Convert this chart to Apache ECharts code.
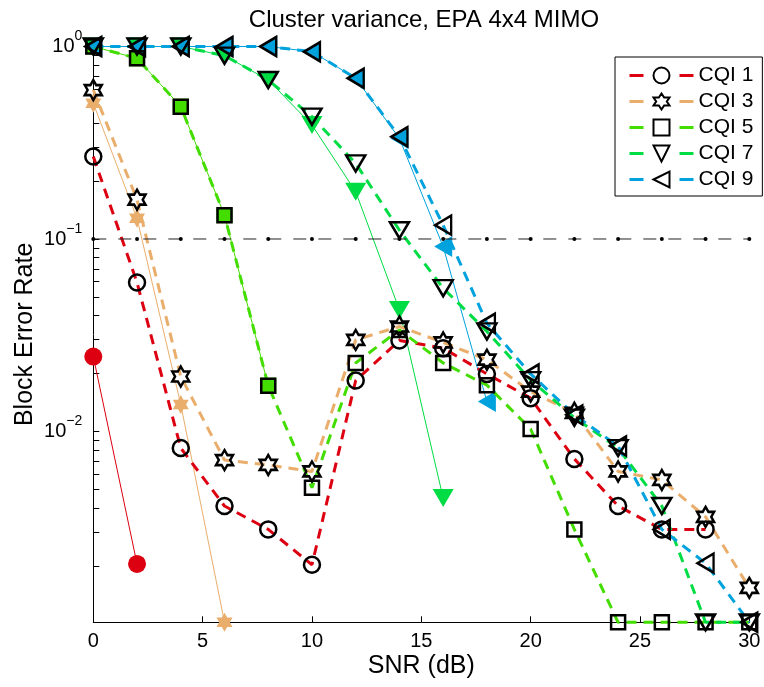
<!DOCTYPE html>
<html><head><meta charset="utf-8">
<script src="https://cdn.jsdelivr.net/npm/echarts@6/dist/echarts.min.js"></script>
<style>html,body{margin:0;padding:0;background:#fff}#c{width:764px;height:687px}</style>
</head><body><div id="c"></div>
<script>
// ---- data ----
const snr = [0, 2, 4, 6, 8, 10, 12, 14, 16, 18, 20, 22, 24, 26, 28, 30];
const cqi1 = [0.268, 0.0594, 0.0082, 0.0041, 0.0031, 0.00203, 0.0184, 0.0297, 0.0271, 0.0199, 0.0149, 0.0072, 0.0041, 0.0031, 0.0031, null];
const cqi1Ref = [0.0245, 0.00205];
const cqi3 = [0.594, 0.16, 0.0193, 0.0071, 0.0067, 0.0062, 0.0299, 0.0351, 0.029, 0.0236, 0.0161, 0.0125, 0.0062, 0.0056, 0.0036, 0.00154];
const cqi3Ref = [0.507, 0.128, 0.0138, 0.00102];
const cqi5 = [1, 0.868, 0.487, 0.133, 0.0173, 0.0051, 0.0227, 0.0337, 0.0227, 0.0174, 0.0103, 0.0031, 0.00102, 0.00102, 0.00102, 0.00102];
const cqi5Ref = [1, 0.868, 0.487, 0.133, 0.0173];
const cqi7 = [1, 1, 1, 0.896, 0.67, 0.432, 0.247, 0.111, 0.0555, 0.0331, 0.0185, 0.0118, 0.0082, 0.0041, 0.00102, 0.00102];
const cqi7Ref = [1, 1, 1, 0.896, 0.67, 0.391, 0.176, 0.0428, 0.00451];
const cqi9 = [1, 1, 1, 1, 1, 0.94, 0.684, 0.34, 0.118, 0.0365, 0.0199, 0.0122, 0.0084, 0.0031, 0.00207, 0.00102];
const cqi9Ref = [1, 1, 1, 1, 1, 0.94, 0.684, 0.333, 0.0913, 0.0143];
const target = [0.1, 0.1, 0.1, 0.1, 0.1, 0.1, 0.1, 0.1, 0.1, 0.1, 0.1, 0.1, 0.1, 0.1, 0.1, 0.1];
const seriesNames = ['CQI 1', 'CQI 3', 'CQI 5', 'CQI 7', 'CQI 9'];
const xTicks = [0, 5, 10, 15, 20, 25, 30];
const yMajorTicks = [0.01, 0.1, 1];
const yMinorTicks = [0.002, 0.003, 0.004, 0.005, 0.006, 0.007, 0.008, 0.009,
  0.01, 0.02, 0.03, 0.04, 0.05, 0.06, 0.07, 0.08, 0.09,
  0.1, 0.2, 0.3, 0.4, 0.5, 0.6, 0.7, 0.8, 0.9, 1];
const Y_MIN = 0.00102, Y_MAX = 1;

// ---- styles ----
const FONT = 'Liberation Sans, Arial, Helvetica, sans-serif';
const colors = ['#dc0010', '#eaae6c', '#44dd00', '#00dd44', '#00a2dd'];
const HEX = 'path://M0,-10L2.887,-5L8.66,-5L5.774,0L8.66,5L2.887,5L0,10L-2.887,5L-8.66,5L-5.774,0L-8.66,-5L-2.887,-5Z';
const hollowSym = [
  {symbol: 'circle', size: 16, rot: 0},
  {symbol: HEX, size: [17, 20], rot: 0},
  {symbol: 'rect', size: 14, rot: 0},
  {symbol: 'triangle', size: [19, 16], rot: 180},
  {symbol: 'triangle', size: [19, 16], rot: 90}
];
const filledSym = [
  {symbol: 'circle', size: 18, rot: 0},
  {symbol: HEX, size: [16, 19], rot: 0},
  {symbol: 'rect', size: 16, rot: 0},
  {symbol: 'triangle', size: [21, 18], rot: 180},
  {symbol: 'triangle', size: [21, 18], rot: 90}
];
const hollowData = [cqi1, cqi3, cqi5, cqi7, cqi9];
const refData = [cqi1Ref, cqi3Ref, cqi5Ref, cqi7Ref, cqi9Ref];

function pairs(arr) {
  const out = [];
  arr.forEach((v, i) => { if (v != null) out.push([snr[i], v]); });
  return out;
}

const series = [];
refData.forEach((arr, k) => {
  series.push({
    name: seriesNames[k] + ' ref', type: 'line', data: pairs(arr),
    symbol: filledSym[k].symbol, symbolSize: filledSym[k].size, symbolRotate: filledSym[k].rot,
    symbolKeepAspect: false, showAllSymbol: true, clip: false,
    lineStyle: {color: colors[k], width: 1, type: 'solid'},
    itemStyle: {color: colors[k], borderWidth: 0},
    emphasis: {disabled: true}, z: 2
  });
});
hollowData.forEach((arr, k) => {
  series.push({
    name: seriesNames[k], type: 'line', data: pairs(arr),
    symbol: hollowSym[k].symbol, symbolSize: hollowSym[k].size, symbolRotate: hollowSym[k].rot,
    symbolKeepAspect: false, showAllSymbol: true, clip: false,
    lineStyle: {color: colors[k], width: 3, type: [10, 7]},
    itemStyle: {color: 'rgba(255,255,255,0)', borderColor: '#000', borderWidth: 2.5},
    emphasis: {disabled: true}, z: 3
  });
});
series.push({
  name: 'target', type: 'line', data: pairs(target),
  symbol: 'circle', symbolSize: 4, showAllSymbol: true, clip: false,
  lineStyle: {color: '#222', width: 1, type: [13, 12]},
  itemStyle: {color: '#000'},
  emphasis: {disabled: true}, z: 4
});

const chart = echarts.init(document.getElementById('c'), null, {renderer: 'canvas'});
chart.setOption({
  animation: false,
  backgroundColor: '#fff',
  title: {
    text: 'Cluster variance, EPA 4x4 MIMO', left: 419, top: 3, textAlign: 'center',
    textStyle: {fontFamily: FONT, fontSize: 24, fontWeight: 'normal', color: '#000'}
  },
  legend: {
    data: seriesNames, orient: 'vertical', left: 615, top: 57,
    padding: [8, 9, 6, 13], itemGap: 5, itemWidth: 64, itemHeight: 20,
    backgroundColor: '#fff', borderColor: '#000', borderWidth: 1, borderRadius: 0,
    lineStyle: {type: [14, 36], width: 3},
    textStyle: {fontFamily: FONT, fontSize: 21, color: '#000', lineHeight: 20},
    selectedMode: false
  },
  grid: {left: 93.3, right: 14.7, top: 46.5, bottom: 64.7, outerBoundsMode: 'none', containLabel: false},
  xAxis: {
    type: 'value', min: 0, max: 30, interval: 5,
    name: 'SNR (dB)', nameLocation: 'middle', nameGap: 31, nameMoveOverlap: false,
    nameTextStyle: {fontFamily: FONT, fontSize: 25, color: '#000'},
    axisLine: {show: true, onZero: false, lineStyle: {color: '#000', width: 1}},
    axisTick: {show: true, inside: true, length: 6, lineStyle: {color: '#000'}},
    axisLabel: {fontFamily: FONT, fontSize: 20, color: '#000', margin: 9,
      customValues: xTicks},
    splitLine: {show: false}
  },
  yAxis: {
    type: 'log', logBase: 10, min: Y_MIN, max: Y_MAX,
    name: 'Block Error Rate', nameLocation: 'middle', nameGap: 56, nameRotate: 90, nameMoveOverlap: false,
    nameTextStyle: {fontFamily: FONT, fontSize: 25, color: '#000'},
    axisLine: {show: true, lineStyle: {color: '#000', width: 1}},
    axisTick: {show: true, inside: true, length: 6, lineStyle: {color: '#000'}, customValues: yMinorTicks},
    axisLabel: {
      fontFamily: FONT, color: '#000', margin: 11, customValues: yMajorTicks,
      formatter: function (v) {
        const e = Math.round(Math.log10(v));
        return '{b|10}{s|' + (e === 0 ? '0' : '\u2212' + (-e)) + '}';
      },
      rich: {
        b: {fontFamily: FONT, fontSize: 20, color: '#000', lineHeight: 34, verticalAlign: 'middle'},
        s: {fontFamily: FONT, fontSize: 14, color: '#000', lineHeight: 14, verticalAlign: 'top'}
      }
    },
    splitLine: {show: false}, minorTick: {show: false}
  },
  series: series
});
</script></body></html>
